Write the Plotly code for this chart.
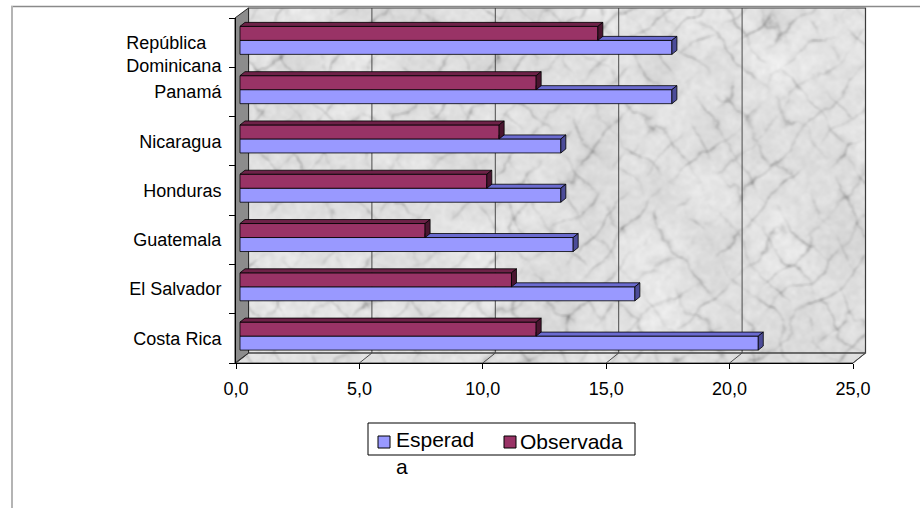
import base64
import struct
import zlib

import numpy as np
import plotly.graph_objects as go

# ---- data -------------------------------------------------------------
categories = ["Costa Rica", "El Salvador", "Guatemala", "Honduras",
              "Nicaragua", "Panamá", "República Dominicana"]
# tick labels as printed on the axis (the long name wraps onto two lines)
tick_labels = ["Costa Rica", "El Salvador", "Guatemala", "Honduras",
               "Nicaragua", "Panamá",
               "<br>República\u00a0\u00a0\u00a0<br>Dominicana"]
esperada = [21.0, 16.0, 13.5, 13.0, 13.0, 17.5, 17.5]
observada = [12.0, 11.0, 7.5, 10.0, 10.5, 12.0, 14.5]
x_ticks = [0, 5, 10, 15, 20, 25]

# ---- geometry of the 3-D box (pixels on a 920 x 508 canvas) ------------
FW, FH = 920, 508
X0, X25 = 236.0, 853.0          # front plane: value 0 and value 25
Y_TOP, Y_BOT = 18.0, 363.0      # front plane: top / bottom of category band
SX = (X25 - X0) / 25.0          # px per value unit
SY = (Y_BOT - Y_TOP) / len(categories)
WALL_DX, WALL_DY = 12.5, 10.0   # depth of the box
BAR_DX = 4.0                    # depth at which the bars stand
CAP_DX, CAP_DY = 5.0, 4.0       # thickness of each bar in depth

ESP_COLOR, ESP_TOP, ESP_SIDE = "#9999FF", "#6B6BD0", "#4C4C99"
OBS_COLOR, OBS_TOP, OBS_SIDE = "#993366", "#6E2248", "#4A1530"


def pxx(p):
    return p / FW


def pxy(p):
    return 1.0 - p / FH


def path(points):
    return "M " + " L ".join(f"{pxx(a):.5f},{pxy(b):.5f}" for a, b in points) + " Z"


# ---- marble texture for the walls -------------------------------------
def hash2(i, j):
    v = np.sin(i * 127.1 + j * 311.7) * 43758.5453
    return v - np.floor(v)


def vnoise(x, y):
    xi, yi = np.floor(x), np.floor(y)
    xf, yf = x - xi, y - yi
    u, v = xf * xf * (3 - 2 * xf), yf * yf * (3 - 2 * yf)
    a, b = hash2(xi, yi), hash2(xi + 1, yi)
    c, d = hash2(xi, yi + 1), hash2(xi + 1, yi + 1)
    return a + (b - a) * u + (c - a) * v + (a - b - c + d) * u * v


def fbm(x, y, octaves=5):
    total, amp, freq = 0.0, 0.5, 1.0
    for _ in range(octaves):
        total = total + amp * vnoise(x * freq, y * freq)
        amp *= 0.5
        freq *= 2.0
    return total


def box_blur(a, r=1):
    out = np.zeros_like(a)
    k = 0
    for dy in range(-r, r + 1):
        for dx in range(-r, r + 1):
            out += np.roll(np.roll(a, dy, axis=0), dx, axis=1)
            k += 1
    return out / k


def marble(w, h):
    yy, xx = np.mgrid[0:h, 0:w].astype(float)
    # two families of diagonal veins, bent by turbulence and faded in patches
    t1 = fbm(xx / 50.0, yy / 50.0)
    t2 = fbm(xx / 45.0 + 17.3, yy / 45.0 + 5.1)
    m1 = np.abs(np.sin((xx + yy) / 12.0 + 5.0 * t1))
    m2 = np.abs(np.sin((xx - 0.8 * yy) / 11.0 + 5.0 * t2))
    p1 = np.clip((fbm(xx / 30.0 + 7.7, yy / 30.0 + 2.2, 3) - 0.28) * 3.0, 0, 1)
    p2 = np.clip((fbm(xx / 28.0 + 1.9, yy / 28.0 + 8.4, 3) - 0.28) * 3.0, 0, 1)
    fine = fbm(xx / 5.0 + 3.7, yy / 5.0 + 9.2, 3)
    cloud = fbm(xx / 60.0 + 40.0, yy / 60.0 + 11.0, 4)
    img = (250.0
           - 62.0 * np.exp(-m1 / 0.14) * p1 * (0.4 + fine)
           - 55.0 * np.exp(-m2 / 0.13) * p2 * (0.4 + fine)
           - 30.0 * cloud
           - 22.0 * fine)
    img = box_blur(img, 1)
    return np.clip(img, 140, 250).astype(np.uint8)


def png_data_uri(arr):
    h, w = arr.shape
    raw = b"".join(b"\x00" + arr[r].tobytes() for r in range(h))

    def chunk(tag, data):
        c = struct.pack(">I", len(data)) + tag + data
        return c + struct.pack(">I", zlib.crc32(tag + data) & 0xFFFFFFFF)

    png = (b"\x89PNG\r\n\x1a\n"
           + chunk(b"IHDR", struct.pack(">IIBBBBB", w, h, 8, 0, 0, 0, 0))
           + chunk(b"IDAT", zlib.compress(raw, 9))
           + chunk(b"IEND", b""))
    return "data:image/png;base64," + base64.b64encode(png).decode()


tex_left, tex_top = X0, Y_TOP - WALL_DY
tex_right, tex_bot = X25 + WALL_DX, Y_BOT
texture = png_data_uri(marble(int(tex_right - tex_left), int(tex_bot - tex_top)))

# ---- bars -------------------------------------------------------------
n = len(categories)
ypos = list(range(n))
bar_w = 14.0 / SY
esp_off = -0.238
obs_off = esp_off + bar_w
base = BAR_DX / SX
cdx, cdy = CAP_DX / SX, CAP_DY / SY

fig = go.Figure()
fig.add_trace(go.Bar(
    y=ypos, x=esperada, base=base, orientation="h", name="Esperada",
    offset=esp_off, width=bar_w,
    marker=dict(color=ESP_COLOR, line=dict(color="#000", width=0.8)),
    showlegend=False, hoverinfo="skip"))
fig.add_trace(go.Bar(
    y=ypos, x=observada, base=base, orientation="h", name="Observada",
    offset=obs_off, width=bar_w,
    marker=dict(color=OBS_COLOR, line=dict(color="#000", width=0.8)),
    showlegend=False, hoverinfo="skip"))


def faces(values, off, hidden=None):
    tops_x, tops_y, caps_x, caps_y = [], [], [], []
    for i, v in enumerate(values):
        y0, y1 = i + off, i + off + bar_w
        xe = base + v
        xs = base if hidden is None else base + hidden[i]
        tops_x += [xs, xe, xe + cdx, xs + (cdx if hidden is None else 0), xs, None]
        tops_y += [y1, y1, y1 + cdy, y1 + cdy, y1, None]
        caps_x += [xe, xe + cdx, xe + cdx, xe, xe, None]
        caps_y += [y0, y0 + cdy, y1 + cdy, y1, y0, None]
    return tops_x, tops_y, caps_x, caps_y


def poly(xs, ys, color):
    return go.Scatter(x=xs, y=ys, mode="lines", fill="toself", fillcolor=color,
                      line=dict(color="#000", width=0.8), showlegend=False,
                      hoverinfo="skip")


etx, ety, ecx, ecy = faces(esperada, esp_off, hidden=observada)
otx, oty, ocx, ocy = faces(observada, obs_off)
fig.add_trace(poly(etx, ety, ESP_TOP))
fig.add_trace(poly(ecx, ecy, ESP_SIDE))
fig.add_trace(poly(otx, oty, OBS_TOP))
fig.add_trace(poly(ocx, ocy, OBS_SIDE))

# ---- walls, floor and grid -------------------------------------------
shapes = []
bw_l, bw_t = X0 + WALL_DX, Y_TOP - WALL_DY
bw_r, bw_b = X25 + WALL_DX, Y_BOT - WALL_DY
below = dict(xref="paper", yref="paper", layer="below")
above = dict(xref="paper", yref="paper")

# white corners around the textured box
shapes.append(dict(type="path", path=path([(X0 - 1, bw_t - 1), (bw_l, bw_t - 1), (X0 - 1, Y_TOP)]),
                   fillcolor="white", line=dict(width=0), **below))
shapes.append(dict(type="path", path=path([(X25, Y_BOT + 1), (bw_r + 1, bw_b), (bw_r + 1, Y_BOT + 1)]),
                   fillcolor="white", line=dict(width=0), **below))
# back wall gridlines
for v in x_ticks[1:-1]:
    xb = bw_l + SX * v
    shapes.append(dict(type="line", x0=pxx(xb), x1=pxx(xb), y0=pxy(bw_t), y1=pxy(bw_b),
                       line=dict(color="#4a4a4a", width=1), **below))
# floor gridlines
for v in x_ticks:
    shapes.append(dict(type="line", x0=pxx(X0 + SX * v), y0=pxy(Y_BOT),
                       x1=pxx(bw_l + SX * v), y1=pxy(bw_b),
                       line=dict(color="#4a4a4a", width=1), **below))
# back wall outline
shapes.append(dict(type="rect", x0=pxx(bw_l), x1=pxx(bw_r), y0=pxy(bw_b), y1=pxy(bw_t),
                   line=dict(color="#3a3a3a", width=1.2), **below))
# floor outline
shapes.append(dict(type="path", path=path([(X0, Y_BOT), (X25, Y_BOT), (bw_r, bw_b), (bw_l, bw_b)]),
                   line=dict(color="#4a4a4a", width=1), **below))
# left side wall
shapes.append(dict(type="path", path=path([(X0 - 1, Y_TOP), (bw_l, bw_t), (bw_l, bw_b), (X0 - 1, Y_BOT)]),
                   fillcolor="#8c8c8c", line=dict(color="#2a2a2a", width=1), **below))

# outer frame of the chart area
shapes.append(dict(type="line", x0=pxx(11), x1=pxx(920), y0=pxy(6.5), y1=pxy(6.5),
                   line=dict(color="#8a8a8a", width=1.5), **above))
shapes.append(dict(type="line", x0=pxx(12), x1=pxx(12), y0=pxy(6), y1=pxy(508),
                   line=dict(color="#b4b4b4", width=2), **above))

# legend box and swatches
shapes.append(dict(type="rect", x0=pxx(368), x1=pxx(635), y0=pxy(455), y1=pxy(423),
                   line=dict(color="#000", width=1), fillcolor="white", **above))
shapes.append(dict(type="rect", x0=pxx(378), x1=pxx(390), y0=pxy(448), y1=pxy(436),
                   line=dict(color="#000", width=1), fillcolor=ESP_COLOR, **above))
shapes.append(dict(type="rect", x0=pxx(504), x1=pxx(516), y0=pxy(448), y1=pxy(436),
                   line=dict(color="#000", width=1), fillcolor=OBS_COLOR, **above))

legend_font = dict(family="Liberation Sans, Arial, sans-serif", size=21, color="#000")
annotations = [
    dict(text="Esperad<br>a", x=pxx(394), y=pxy(426), xref="paper", yref="paper",
         xanchor="left", yanchor="top", align="left", showarrow=False, font=legend_font),
    dict(text="Observada", x=pxx(518), y=pxy(441), xref="paper", yref="paper",
         xanchor="left", yanchor="middle", showarrow=False, font=legend_font),
]

axis_font = dict(family="Liberation Sans, Arial, sans-serif", size=18, color="#000")

fig.update_layout(
    width=FW, height=FH, autosize=False,
    margin=dict(l=0, r=0, t=0, b=0, pad=0, autoexpand=False),
    paper_bgcolor="white", plot_bgcolor="rgba(0,0,0,0)",
    separators=",.",
    barmode="overlay",
    shapes=shapes, annotations=annotations,
    images=[dict(source=texture, xref="paper", yref="paper",
                 x=pxx(tex_left), y=pxy(tex_top),
                 sizex=(tex_right - tex_left) / FW, sizey=(tex_bot - tex_top) / FH,
                 xanchor="left", yanchor="top", sizing="stretch", layer="below")],
    xaxis=dict(domain=[pxx(X0), pxx(X25)], range=[0, 25], anchor="y",
               automargin=False,
               tickvals=x_ticks, tickformat=".1f", ticks="outside", ticklen=5,
               tickcolor="#000", showline=True, linecolor="#000", linewidth=1,
               showgrid=False, zeroline=False, tickfont=axis_font,
               ticklabelstandoff=4),
    yaxis=dict(domain=[pxy(Y_BOT), pxy(Y_TOP)], range=[-0.5, n - 0.5], anchor="x",
               automargin=False,
               tickvals=ypos, ticktext=tick_labels, ticks="",
               minor=dict(tickmode="array", tickvals=[k - 0.5 for k in range(n + 1)],
                          ticks="outside", ticklen=6, tickcolor="#000", showgrid=False),
               showline=True, linecolor="#000", linewidth=1,
               showgrid=False, zeroline=False, tickfont=axis_font,
               ticklabelstandoff=10),
)

page_style = ("document.body.style.margin='0';"
              "document.body.style.overflow='hidden';")
fig.write_html("out.html", config={"responsive": False},
               default_width=f"{FW}px", default_height=f"{FH}px",
               post_script=page_style)
